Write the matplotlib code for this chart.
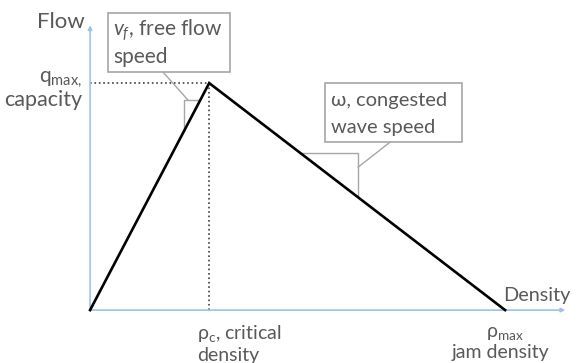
import numpy as np
import matplotlib
matplotlib.use("Agg")
import matplotlib.pyplot as plt
from matplotlib.patches import Rectangle

plt.rcParams['font.family'] = ['Lato', 'DejaVu Sans']
plt.rcParams['mathtext.fontset'] = 'custom'
plt.rcParams['mathtext.rm'] = 'Lato'
plt.rcParams['mathtext.it'] = 'Lato:italic'

# ----------------------
# triangular fundamental diagram
# ----------------------
density = [0, 28.7, 100]   # 0, rho_c, rho_max
flow = [0, 100, 0]         # 0, q_max, 0
rho_c = density[1]
rho_max = density[2]
q_max = flow[1]

txt = '#595959'
axis_c = '#9dc3e6'
box_c = '#a6a6a6'

fig = plt.figure(figsize=(5.79, 3.63), dpi=100)
ax = fig.add_axes([0, 0, 1, 1])
ax.set_xlim(-21.7, 117.8)
ax.set_ylim(-23.3, 136.6)
ax.axis('off')

# axes with arrows
arrow = dict(arrowstyle='-|>', color=axis_c, lw=1.2, mutation_scale=6, shrinkA=0, shrinkB=0)
ax.annotate('', xy=(114.5, 0), xytext=(0, 0), arrowprops=arrow)
ax.annotate('', xy=(0, 125.5), xytext=(0, 0), arrowprops=arrow)

# dotted guides
ax.plot([0, rho_c], [q_max, q_max], ls=':', color='#404040', lw=1.2)
ax.plot([rho_c, rho_c], [0, q_max], ls=':', color='#404040', lw=1.2)

# the diagram
ax.plot(density, flow, color='black', lw=1.9, solid_joinstyle='miter', zorder=3)

# slope marker free flow
x0 = 22.6
y0 = q_max / rho_c * x0
y1 = 92.5
x1 = y1 * rho_c / q_max
ax.plot([x0, x0, x1], [y0, y1, y1], color=box_c, lw=1)

# slope marker congested
y2 = 69.2
x2 = rho_max - y2 * (rho_max - rho_c) / q_max
x3 = 64.6
y3 = q_max * (rho_max - x3) / (rho_max - rho_c)
ax.plot([x2, x3, x3], [y2, y2, y3], color=box_c, lw=1)

# callout boxes
ax.add_patch(Rectangle((4.3, 104.8), 29.4, 26.0, fill=False, ec=box_c, lw=1.2))
ax.plot([17.6, 23.6], [104.8, 92.5], color=box_c, lw=1)
ax.text(5.5, 123.3, r'$v_f$, free flow', color=txt, fontsize=15, va='center')
ax.text(5.5, 111.5, 'speed', color=txt, fontsize=15, va='center')

ax.add_patch(Rectangle((56.6, 74.0), 33.0, 26.0, fill=False, ec=box_c, lw=1.2))
ax.plot([72.3, 64.6], [74.0, 63.0], color=box_c, lw=1)
ax.text(58.1, 92.5, 'ω, congested', color=txt, fontsize=14.5, va='center')
ax.text(58.1, 80.6, 'wave speed', color=txt, fontsize=14.5, va='center')

# axis labels
ax.text(-1.2, 126.9, 'Flow', color=txt, fontsize=16, ha='right', va='center')
ax.text(99.5, 6.6, 'Density', color=txt, fontsize=14.3, ha='left', va='center')
ax.text(-1.9, 101.3, r'q$_{\mathregular{max,}}$', color=txt, fontsize=15, ha='right', va='center')
ax.text(-1.9, 92.5, 'capacity', color=txt, fontsize=15.5, ha='right', va='center')
ax.text(25.8, -10.1, r'ρ$_{\mathregular{c}}$, critical', color=txt, fontsize=14, ha='left', va='center')
ax.text(25.8, -19.8, 'density', color=txt, fontsize=14, ha='left', va='center')
ax.text(100, -10.1, r'ρ$_{\mathregular{max}}$', color=txt, fontsize=14, ha='center', va='center')
ax.text(99, -18.5, 'jam density', color=txt, fontsize=14, ha='center', va='center')

fig.savefig('out.png', dpi=100)
